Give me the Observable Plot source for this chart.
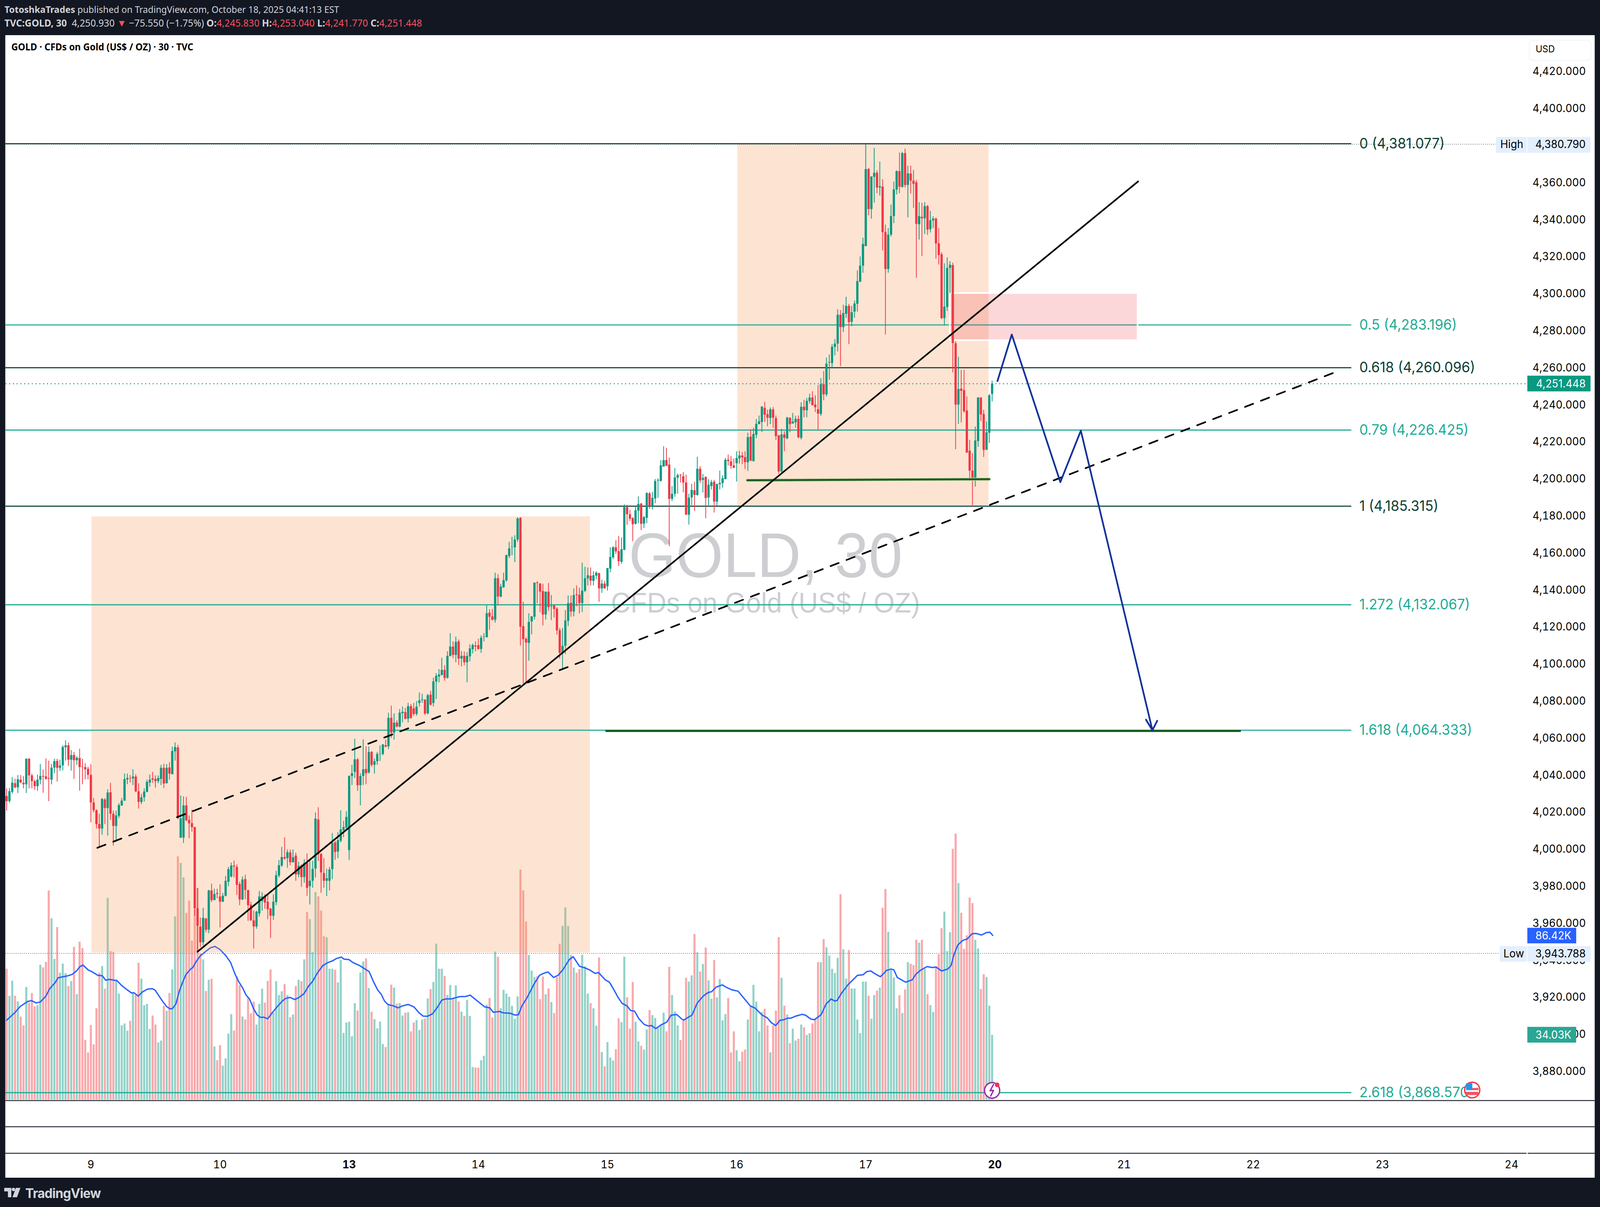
<!DOCTYPE html>
<html><head><meta charset="utf-8">
<script src="https://cdn.jsdelivr.net/npm/d3@7"></script>
<script src="https://cdn.jsdelivr.net/npm/@observablehq/plot@0.6"></script>
<style>
html,body{margin:0;padding:0;background:#131722;overflow:hidden;}
#wrap{position:relative;width:4234px;height:3090px;overflow:hidden;background:#131722;font-family:Inter,sans-serif;transform-origin:0 0;}
#pane{position:absolute;left:14px;top:90px;width:4206px;height:2925px;background:#fff;}
#wrap svg.plot{position:absolute;left:0;top:0;}
.hd{position:absolute;white-space:nowrap;font-family:"Noto Sans",sans-serif;font-size:25px;color:#d1d4dc;line-height:30px;}
.hd b{font-weight:700}.hd i{font-style:normal;color:#f7525f}
#tv{position:absolute;left:67px;top:3034px;font:700 34px Inter,sans-serif;color:#d1d4dc;letter-spacing:-1px;}
</style></head><body>
<div id="wrap">
<div id="pane"></div>
<div class="hd" style="left:12px;top:9px;font-size:23.8px"><b>TotoshkaTrades</b> published on TradingView.com, October 18, 2025 04:41:13 EST</div>
<div class="hd" style="left:12px;top:43px"><b>TVC:GOLD, 30</b>&nbsp; 4,250.930 <i>▼</i> −75.550 (−1.75%) <b>O:</b><i>4,245.830</i> <b>H:</b><i>4,253.040</i> <b>L:</b><i>4,241.770</i> <b>C:</b><i>4,251.448</i></div>
<div class="hd" style="left:30px;top:105px;color:#000;font-weight:700;font-size:24.3px">GOLD · CFDs on Gold (US$ / OZ) · 30 · TVC</div>
<svg style="position:absolute;left:11px;top:3041px" width="46" height="25" viewBox="0 0 46 25"><path fill="#d1d4dc" d="M0 0h19v24h-9V9H0zM31 0h12l-9 24H22zM20 4a4.500 4.500 0 1 0 9 0a4.500 4.500 0 1 0-9 0z"/></svg>
<div id="tv">TradingView</div>
</div>
<script>
// Each row: [open, high, low, close]
const oct08 = [[4028.7,4032.8,4020.8,4025.9],[4025.9,4033,4025,4031.3],[4030.9,4038.9,4030,4035.9],[4035.6,4038,4032.8,4033.4],[4033.4,4040,4030.3,4037.7],[4037.5,4040,4035.6,4036],[4035.8,4039.5,4032.8,4035],[4035,4049,4030.3,4048.8],[4048.8,4049.1,4032.8,4039.8],[4039.8,4040.8,4032.8,4036.7],[4036.7,4037.5,4032,4034],[4034,4040.3,4031.5,4037.5],[4037.5,4046,4035,4039.5],[4039.5,4043,4030.4,4039.1],[4039.3,4049,4037.5,4038],[4038.4,4047.8,4025.9,4038],[4037.5,4046,4035,4044],[4044,4048.8,4041,4047.5],[4047.6,4048.8,4036.5,4043.9],[4043.9,4048.3,4042.2,4045.2],[4045.2,4056.1,4042.6,4055.2],[4055,4058.8,4047.8,4056.1],[4056.1,4057.6,4045,4048.3],[4048.3,4053.5,4042.4,4050.8],[4050.8,4052.5,4037.9,4048],[4048,4050.2,4045.5,4049.3],[4049.3,4054.2,4031.5,4044.3],[4044.5,4048.8,4035,4044.3],[4044.3,4046.4,4037.7,4043.1],[4043.4,4044.5,4037.7,4040.1]];
const oct09 = [[4040.1,4045.9,4014.4,4025.2],[4025.2,4027.6,4019.8,4021],[4021,4021.5,4011.1,4013.5],[4013.5,4019.1,4000.7,4011.1],[4011.1,4027.6,4007.8,4027.1],[4026.8,4027.6,4013.5,4022.2],[4022.2,4032.3,4007.3,4030.6],[4030.7,4035.8,4015.8,4019.1],[4019.1,4020.8,4001.9,4012.5],[4012.5,4020.8,4004,4018.2],[4018,4024.8,4016.8,4023.8],[4023.6,4027.6,4023.3,4026.2],[4026.2,4040.8,4026,4037.8],[4037.6,4040.8,4035.1,4038.4],[4038.4,4040,4036,4038.2],[4038.2,4043.1,4034.6,4039.2],[4039.2,4040.5,4030.9,4031.1],[4031.2,4035.6,4021.9,4025.5],[4025.4,4029.9,4024.3,4028],[4028,4032.8,4025.7,4031.1],[4030.9,4037.5,4030.7,4036.3],[4035.9,4040.3,4033.7,4037.5],[4038.2,4041.7,4035.8,4037.5],[4037.9,4039.8,4033.2,4036.7],[4036.8,4039.8,4035.6,4038.4],[4037.9,4045.5,4034.6,4043.9],[4043.9,4046.1,4033,4035.4],[4035.6,4045.9,4035.4,4043.9],[4044.1,4046.9,4037.5,4040.8],[4040.5,4055.4,4040.3,4053],[4052.8,4057.6,4047.8,4055.1],[4054.9,4056.3,4016.3,4016.6],[4006.2,4029,4006,4016.6],[4006.2,4028.5,4003.3,4023.6],[4023.6,4028.2,4015,4015.6],[4015.8,4018.2,4005.9,4013.9],[4014,4021.3,4009.4,4011.8],[4011.9,4012,3964,3968],[3968,3979,3944,3958.6],[3958.1,3963,3947.1,3949.7],[3949.7,3968.3,3948,3962.9],[3962.4,3963,3955.1,3956.5],[3956.5,3978,3954.6,3977.7],[3977.7,3981.4,3971.4,3972.5],[3972.5,3978.6,3972.4,3975.8],[3976.3,3978.6,3973.4,3975.8]];
const oct10 = [[3974.4,3981,3957.7,3971.6],[3971.6,3976.3,3971.4,3974.8],[3974.8,3985.5,3974.4,3982.9],[3982.4,3990.4,3980,3989.2],[3985.2,3992.7,3984.7,3991.1],[3991.1,3993.9,3984.7,3990.6],[3990.4,3991.8,3975.3,3980.7],[3981.2,3982.4,3969.7,3972.8],[3972.8,3985.2,3972.5,3983.6],[3983.8,3986.2,3973,3977.9],[3977.9,3978,3961.2,3969.7],[3970,3971.6,3961.2,3961.5],[3961.5,3966.8,3946.3,3958.2],[3958.2,3966.8,3957,3966.2],[3965.2,3977.4,3963.6,3974.4],[3972,3976.7,3966.8,3974.4],[3974.6,3975.6,3967.8,3971.1],[3971.6,3975.8,3962.1,3967.5],[3967.8,3968.3,3952,3964],[3964,3975.6,3961.7,3971.6],[3971.4,3988.3,3969.7,3985.9],[3985.7,3994.2,3984.7,3991.3],[3991.1,4001.2,3990.4,3995.7],[3995.7,4006.4,3994.2,3994.9],[3995.1,3999.8,3989.9,3998.4],[3998.2,3999.8,3991.3,3992.9],[3992.9,3999.8,3992.7,3995.6],[3996.5,3998.1,3982.9,3986.3],[3986.3,3993.2,3984.7,3991],[3991.1,3991.8,3979.6,3984.9],[3984.9,3994.6,3981.9,3992.5],[3992.6,3997.7,3974.8,3979.1],[3980,3993.7,3970.1,3982.9],[3982.9,3993.7,3979.1,3989.3],[3989.5,4019.8,3984.7,4016.5],[4016,4022.6,3993.7,3997.2],[3997.4,3997.9,3976.4,3987.4],[3987.1,3995.1,3979.1,3982.9],[3982.9,3989.4,3974.6,3984.3],[3982.9,3990.4,3977.7,3989],[3989.2,4008.7,3983.8,4003.4],[4003.6,4004.5,3994.2,3998.4],[3998.7,4009.2,3995.1,4004.8],[4004.5,4021,4003.6,4010.6],[4010.2,4015.3,4006.4,4011.9],[4011.6,4020.5,4010.2,4017.4]];
const oct13 = [[3999.5,4039.8,3994.2,4039.5],[4039.5,4045.5,4034.6,4041],[4041.7,4059.6,4038.4,4048.5],[4048.5,4049.2,4031.5,4034.5],[4034.5,4041,4023.6,4039.5],[4039.5,4059.3,4034.6,4043.1],[4043.3,4055.5,4035.1,4041],[4041.4,4055.4,4040.8,4052.5],[4052.5,4053,4044.5,4045.5],[4045.5,4049,4040.8,4047.5],[4047.5,4052.5,4045.5,4051.4],[4051.4,4056,4047.6,4051.6],[4051.4,4056.8,4050.7,4056.5],[4056.1,4059.1,4054.9,4055.4],[4055.5,4073.7,4054,4070.9],[4070.9,4077.5,4060.1,4062.9],[4062.9,4073.3,4059.1,4068.3],[4068.3,4069.5,4065.7,4066.2],[4066.2,4075.6,4065.7,4073.7],[4073.4,4077,4068.5,4074.2],[4074,4076.3,4070,4070.4],[4070.4,4079,4068.4,4077.2],[4077.2,4078.4,4070.4,4070.9],[4076,4079,4072,4073],[4073,4080,4072,4077],[4078.9,4084.6,4077,4080.3],[4080.5,4083.9,4079,4080.9],[4080.7,4081,4072.5,4073.2],[4073.3,4083.9,4072.8,4083.1],[4083.4,4085.5,4077.5,4078],[4078.9,4092.6,4077,4090.6],[4090.5,4095.1,4081.1,4093.6],[4093.2,4097.2,4090.1,4094.3],[4094,4103.3,4094,4096.8],[4096.8,4099.3,4091,4092.4],[4092.6,4106.9,4092,4104.4],[4104.3,4116.6,4104.1,4109.4],[4109.4,4112.2,4103.1,4104.9],[4104.9,4114.8,4100.9,4111.9],[4112.2,4113.2,4099.5,4102.9],[4102.9,4106.9,4098.7,4104.4],[4104.4,4106.8,4099.3,4100.9],[4100.9,4106.3,4090.1,4104.3],[4104.1,4110.6,4101.4,4108.4],[4108,4111,4105.7,4110.2],[4110,4112.2,4106.8,4109.4]];
const oct14 = [[4110.2,4113.6,4107.7,4108.1],[4108.1,4115.4,4106,4114.2],[4114.6,4116.6,4112.2,4114.8],[4114.4,4131.6,4114.4,4127.4],[4127.7,4129.5,4118.4,4125.5],[4125.7,4129.7,4123.5,4123.9],[4123.9,4149.3,4122.3,4146.3],[4146.3,4148.5,4131.6,4136.4],[4136.4,4143.3,4136,4141.8],[4141.4,4149.3,4141.1,4145.3],[4145.1,4159,4144.5,4158.8],[4158.3,4165.9,4157.2,4162.4],[4163.2,4168.7,4158.7,4163.4],[4163,4169.5,4155,4167.2],[4167.2,4179.2,4165.9,4178.6],[4178.9,4179.3,4109.9,4120.1],[4120.4,4133.6,4089.4,4113.4],[4113.6,4114.4,4089.4,4111.6],[4111.4,4127.4,4101.7,4122.7],[4122.9,4125.9,4116,4125.7],[4125.5,4144.1,4124,4143.9],[4144.1,4144.6,4132.8,4143.7],[4143.4,4143.7,4127.9,4139.1],[4139.4,4143.3,4120.8,4126.7],[4126.7,4139.2,4124,4139],[4139,4143.7,4128.7,4130.7],[4131,4137.2,4123.7,4131.3],[4131.6,4132,4125.1,4129.7],[4129.9,4130.7,4115.8,4118.1],[4118.2,4119.4,4102.9,4106],[4106,4119.4,4097.2,4109.8],[4109.8,4129.1,4105.3,4123.5],[4123.3,4137,4120.5,4132.8],[4133,4137,4125.5,4128.3],[4128.3,4140.8,4125.7,4137.2],[4137.6,4142.4,4131.1,4137.2],[4137.4,4141.2,4127.3,4132.9],[4132.9,4154.7,4128.1,4139.6],[4139.5,4152.5,4138.8,4146.3],[4146.2,4152.1,4142.4,4147.9],[4147.6,4152.1,4142.4,4145],[4144.9,4150.1,4142.4,4147.9],[4147.7,4150.1,4145.7,4149.3],[4149.1,4149.2,4133.6,4140.8],[4140.8,4145.5,4138.4,4143.4],[4143.4,4144.9,4140.7,4140.8]];
const oct15 = [[4141.9,4151.8,4139.6,4151.8],[4151.5,4163,4149.5,4157.8],[4157.6,4163.6,4156.6,4163],[4163,4166.8,4159.4,4160.8],[4160.9,4169.1,4152.9,4155.5],[4155.2,4168.3,4154.1,4162],[4161.7,4186.2,4161.4,4184.7],[4184.7,4186,4175.1,4180.9],[4180.9,4183.2,4177.2,4178.4],[4178.8,4179.2,4166.3,4175.5],[4175.7,4184.8,4175.3,4183],[4182.8,4190.5,4176,4186.4],[4186.6,4187,4172.3,4175.7],[4175.8,4180,4173.4,4179.3],[4178.9,4192.7,4176,4192.3],[4192.1,4192.9,4183.8,4185.2],[4185.2,4192.9,4183.4,4189.7],[4189.3,4199.9,4186.8,4198.8],[4199,4200.2,4189.7,4199.4],[4198.9,4210.1,4198.4,4207.3],[4206.6,4217.6,4206.5,4210.1],[4210.1,4216.7,4207,4207],[4207.7,4211.5,4163.6,4189.2],[4189.2,4196.1,4188,4191.9],[4191.9,4205.8,4190.3,4200.7],[4200.6,4202.8,4192,4202],[4202.2,4202.6,4198,4201.9],[4201.4,4203.6,4192.7,4198],[4198,4202.2,4180.6,4180.6],[4180.6,4192,4175.3,4189.9],[4189.9,4197.3,4185.7,4194],[4193.8,4198.4,4182.7,4191.3],[4191.2,4211.9,4191,4205.4],[4205.4,4206.8,4197.7,4199.1],[4199.4,4202.6,4192.6,4200.5],[4201,4201.3,4178.7,4189.6],[4189.9,4199.8,4185.7,4196.8],[4196.1,4199.4,4194.2,4198.2],[4198.4,4199.4,4181.8,4187.7],[4187.7,4197.3,4185.4,4197.2],[4197.1,4204.4,4194.2,4197.8],[4197.7,4201.9,4195.2,4200.3],[4199.8,4211.2,4199.8,4210.3],[4210.3,4213.1,4207.2,4209.6],[4209.4,4212.3,4205.4,4207],[4207.2,4210.9,4205.8,4205.9]];
const oct16 = [[4208.4,4214.9,4198.5,4211.2],[4211,4215.1,4208.2,4212.6],[4212.6,4214.5,4207.9,4211.6],[4211.7,4214.9,4205.3,4209],[4208.9,4224.9,4204.2,4222.5],[4222.8,4226.7,4209.6,4209.8],[4209.5,4227.6,4209.4,4224.2],[4223.8,4232.3,4221.9,4229.7],[4229.5,4234.2,4229.5,4231.1],[4230.7,4239.2,4225.3,4239],[4238.3,4241.6,4230.7,4234.6],[4234.9,4237.4,4228.3,4233],[4232.8,4238.5,4229.5,4237.5],[4237.5,4238.7,4227.6,4233],[4232.8,4234.2,4220.9,4223],[4223.5,4223.5,4202.7,4203.9],[4204,4227,4202.8,4224],[4224,4225.7,4214.9,4222.1],[4221.8,4233.5,4221.4,4233],[4233,4233.2,4225.2,4229.5],[4229.9,4235.6,4229.7,4230.9],[4230.5,4234.1,4227.6,4232.4],[4232.4,4234.2,4221.9,4222.4],[4222.1,4241.4,4221.2,4238.9],[4238.9,4242.7,4233.2,4237],[4237,4243.7,4233.2,4242.1],[4242,4246,4240.6,4243.9],[4243.9,4247.3,4239.5,4239.8],[4240.1,4245.1,4236,4238.6],[4237.6,4250.6,4226.7,4235.2],[4235,4254.4,4234,4251.1],[4251.1,4258.2,4242.4,4245.6],[4245.6,4265.4,4244.5,4262.2],[4262.8,4267.1,4253.5,4263.1],[4262.5,4272.8,4259.9,4271.3],[4271.2,4275.5,4266.7,4273],[4273,4291.6,4268.8,4288.6],[4288.6,4291.1,4260.8,4281.9],[4281.9,4294,4279.3,4289.5],[4289.1,4298.3,4286.8,4293.4],[4293.4,4294.5,4272.7,4284.6],[4284.8,4293.4,4282.4,4290],[4290.3,4296.3,4287,4294.7],[4294.5,4312.6,4290.3,4306.8],[4306.4,4320.1,4306.4,4315.1],[4315.1,4330.2,4311.3,4326.8]];
const oct17 = [[4325.7,4380.79,4325.6,4367.3],[4367.3,4367.9,4342.3,4345.7],[4345.7,4363.3,4340.5,4363.3],[4363.1,4378.7,4349.2,4365.3],[4365.3,4366.5,4354.2,4357.3],[4357.3,4371.3,4353,4358],[4357.8,4361.8,4323.3,4333.2],[4333.3,4337.3,4277.9,4313.3],[4313.3,4335.4,4311.3,4331.9],[4331.9,4348.1,4330.9,4341.9],[4341.9,4360.5,4338.1,4356.3],[4356.2,4366.5,4353.6,4366.2],[4366.2,4376.2,4354.2,4357.8],[4357.5,4376.6,4357.4,4375.9],[4375.9,4378.3,4357.4,4358.7],[4358.7,4369.1,4341.2,4364.9],[4364.9,4369.1,4354,4361],[4361,4366.9,4346.3,4359.3],[4360.1,4361.4,4308.5,4337.7],[4337.5,4349.4,4329.2,4341.9],[4341.5,4349.1,4320.3,4340.7],[4340.7,4349.4,4332.2,4347.3],[4347.3,4347.9,4331.7,4334.6],[4334.8,4344.7,4333,4339.7],[4339.5,4341.7,4335.5,4340.5],[4340.5,4341.1,4318.9,4327.1],[4327.2,4335.4,4315.7,4320.9],[4321.3,4322.3,4286.2,4286.8],[4286.8,4316.4,4282.8,4293],[4292.8,4319.6,4290.6,4313.9],[4313.9,4317.5,4300.3,4315.6],[4315.4,4316.7,4257.5,4273.3],[4273.2,4274.2,4216,4240.1],[4240.1,4265.9,4229.7,4248.5],[4248.7,4258.8,4230.4,4247.5],[4247.9,4258.8,4235.7,4236.5],[4236.9,4244.5,4214.1,4214.1],[4215.2,4221.1,4199.5,4204.4],[4204.4,4213.9,4185.1,4200.2],[4200,4228.2,4195.8,4220.7],[4220.4,4244.1,4217.3,4243.9],[4243.9,4244.1,4231.2,4234.8],[4235,4237.3,4211.8,4215.6],[4215.7,4231,4215.6,4225.1],[4224.9,4245.8,4219.4,4245.1],[4245.83,4253.04,4241.77,4251.448]];

// Volume in thousands
const vol08 = [68.8,54.5,62.5,54.6,51.7,43.6,39,59.2,50.9,56,49,49.6,70.9,69.5,72.4,109.9,95.3,73.9,90.7,66.7,71.5,66.4,59.7,62.3,80.3,55.4,83,79.7,31.4,24.8];
const vol09 = [39.2,29,48,66.7,70.2,58.3,106,78,77.6,63.3,55.7,39,40,36.2,41.4,55.7,55,71.9,63.6,49.6,50.3,37.1,44.2,39.4,30,31,49.3,46.6,56,68.4,96.3,127.9,124.4,116.8,98.1,104.6,83.6,100,111.3,76.8,73.7,57.1,63,63.5,27.9,20.7];
const vol10 = [28.6,17.8,21.7,34.7,44.9,36.3,64.7,60.2,43.7,42.1,53.5,45.3,51.5,39.4,50.3,58.3,50.9,62.4,68.4,45.7,62.2,55,56.9,60.7,55,43.3,44.7,59.7,63,62.2,73.7,98.6,94.9,77.5,109,106.8,99.4,85.8,85.3,68.8,68.8,68.2,61.6,73.4,35,40.5];
const vol13 = [40.9,33.3,50.7,46.8,66.8,72.6,74.2,58.7,46.2,42.3,37.4,41,29.2,27.6,49.9,60.4,58.9,50.4,50.7,44.2,45.7,45.9,35.9,40.5,41.8,36.6,42.1,42.6,53.2,58.1,61.8,81.9,68.8,68.8,65,55,60.2,53,60,51.6,46.2,44,52.3,44,17.1,16.8];
const vol14 = [16.8,20.7,23,49.9,53.4,43.1,77.8,75.1,48,57.7,55.7,54,49.3,42.5,54.2,120.9,110,93.6,76,67.8,64.4,64.9,52.8,64.7,55.4,58.4,51.3,45.5,64.3,81.9,91.3,101,91.3,76,69.4,66.7,68.6,76.1,70,55.7,50.7,48,38.8,74.7,25,17.5];
const vol15 = [30.2,22.1,20.5,26.5,42.7,40.7,75.1,53.8,37.3,61.8,40.9,30.6,28.3,26.3,36.9,47,44.4,42.9,38,39,45.7,35.9,69.8,55,46.3,39,31.3,41.6,64,62,65.3,87,77.4,67.3,71.3,79.9,62.6,53,73.4,53.7,63.4,41.7,44.9,53.4,24.8,35.9];
const vol16 = [25.9,20.1,25.2,26.3,42.1,49.3,60.3,51.5,35.9,46,47.8,39,24.8,39,46.8,85.4,64,49.4,44.7,29.6,37.3,31,32,39.4,38,34,34.9,40,42.6,72.2,72.2,84.4,80,75.7,68.8,66.5,74.5,108,79,63.6,78.6,58.4,58.4,42.1,34.9,62];
const vol17 = [62,54.6,42.5,55,57.3,58.9,100.8,110.7,88.2,68,64.2,48,54.8,45.5,57.9,72.2,71.4,70.7,84,82.5,84,68.7,55.4,49.7,46.1,70,76.4,90.1,98.8,78,88,131.8,139.8,113.8,98.2,79.2,86.4,106.2,103.3,84,79.4,58.1,65.9,64.4,49.4,34.03];

// Volume moving average, read as [bar, thousands]
const volumeAverage = [[0,41.8],[3,45.9],[4.8,49],[7.5,51.7],[8.9,52.1],[10.5,50.9],[12,51.4],[14,54.5],[15.3,58.3],[17.4,61.8],[18.3,64.1],[21.9,65.2],[23.3,65.9],[24.9,67.7],[26.1,70],[27.2,70.8],[29.1,68.2],[30.3,67.4],[32.5,65.4],[34.1,65.2],[35.3,62.8],[36.5,63.3],[39.3,62.6],[40.9,60.2],[42.5,58.3],[44.5,56.1],[45.3,56.3],[46.9,54.5],[48.3,56.6],[50.1,58.1],[51.9,58.4],[52.9,57.6],[54.3,54.5],[55.5,51.9],[57,49],[58.2,47.8],[59.1,48],[60.3,50.4],[61.5,57.1],[62.7,61.8],[63.9,65.9],[65.4,68.5],[66.3,69.5],[67.5,72.6],[69,75.7],[71.2,78.3],[72.6,79.9],[74.2,80.6],[76,79],[78.1,75.7],[79.8,72.1],[81.4,65.9],[82.6,62.3],[84.1,58.7],[85.3,55],[86.5,53],[88,47.8],[89.2,44.7],[90.4,43.3],[91.6,43.4],[93,42.6],[94.6,45.7],[96.4,49],[98.2,51.9],[99.4,53.3],[101,53.8],[102.6,52.7],[104.2,53.8],[106,55.9],[107.5,59.7],[109,62.3],[110.8,66.9],[112.6,70.5],[114.4,72.1],[116.2,73.1],[117.4,74.2],[119.2,75],[120.2,73.9],[121.9,73.7],[123.4,72.1],[125.8,70.5],[127.4,69],[129.1,67.4],[130.6,62.3],[132.2,57.6],[133.4,55.5],[134.6,51.9],[135.8,50.1],[137.9,49.3],[139.4,48.3],[140.9,49.3],[143,50.1],[145.1,48.8],[146.9,45.7],[148.3,44],[149.9,43.9],[151.7,45.2],[153.5,48.8],[155,52.4],[156.5,53],[158.3,53],[161.3,54.2],[163.5,54.3],[165.1,55],[167.3,52.4],[170.3,48.8],[172.1,48.3],[173.3,46],[175.5,46.4],[176.9,45.7],[179.3,45.5],[181.1,44.5],[182.3,44.7],[183.5,49.3],[185.3,53.5],[188,61.2],[189.8,65.4],[191,66.3],[192.8,67.2],[194.8,64.3],[196.4,65.4],[198.2,68.5],[200.4,73.7],[201.8,75.2],[204,70.2],[206,69.3],[207.6,68.3],[209.6,66.4],[210.8,66.9],[213.2,63.1],[214.7,61.8],[216.2,58.1],[217.7,54],[219.2,50.7],[221,49.3],[222.2,47],[223.7,46.5],[225.2,42.6],[227,39.7],[228.5,38.8],[229.7,39],[231.2,37.4],[233,39.3],[235.1,40.8],[236.7,44.5],[238.7,44.8],[240.5,42.4],[241.2,41.9],[242.7,43.3],[244.1,44.5],[246,50.9],[248.1,54.5],[249.9,56.4],[251.1,56.8],[252.7,59.2],[254.9,60.4],[256.5,59],[258.3,57.8],[260.5,57.1],[262.1,54.3],[264.9,49.3],[266.5,48.3],[269.1,44.5],[270.9,43.1],[272.3,40.6],[273.9,39],[275.5,41.8],[276.9,42.1],[278.1,42.9],[279.3,42.9],[281.1,44],[283.3,44.9],[284.5,44.5],[286.5,42.4],[287.7,42.1],[290.1,44.7],[291.9,50.4],[293.7,53],[294.9,51.9],[295.8,52.2],[297.4,56.1],[299.8,60.7],[301.6,63.3],[303,65.4],[305,65.7],[306.4,67.4],[307.8,67.7],[309.4,66.1],[311.2,64.7],[312.4,66.4],[313.4,68],[315,68.7],[316,68.3],[317.2,64.3],[318.4,63.3],[320.2,61.8],[322.6,63.1],[323.8,65.9],[325.4,68],[327.8,70],[329.8,69.5],[331,69.8],[333,67.7],[335.2,68.7],[336.4,70.6],[337.4,76.2],[338.8,81.4],[340.6,83.8],[342.1,84.5],[343.9,87.3],[345.4,87.4],[347.2,86.6],[349,87.9],[350.2,88.1],[351.2,86.42]];

const fibLevels = [0,0.5,0.618,0.79,1,1.272,1.618,2.618];
const fibPrices = [4381.077,4283.196,4260.096,4226.425,4185.315,4132.067,4064.333,3868.57];
const fibLabels = ["0 (4,381.077)","0.5 (4,283.196)","0.618 (4,260.096)","0.79 (4,226.425)","1 (4,185.315)","1.272 (4,132.067)","1.618 (4,064.333)","2.618 (3,868.570)"];
const fibDark = [0,0.618,1];
const priceTicks = [4420,4400,4380,4360,4340,4320,4300,4280,4260,4240,4220,4200,4180,4160,4140,4120,4100,4080,4060,4040,4020,4000,3980,3960,3940,3920,3900,3880];
const dayBars = [30,76,122,168,214,260,306,352,398,444,490,536];
const dayLabels = ["9","10","13","14","15","16","17","20","21","22","23","24"];
const boldDays = [122,352];

const solidTrend = [[68,3944.7],[403,4360.7]];
const dashedTrend = [[32.3,4000.8],[473.8,4258]];
const forecastPath = [[352.9,4252.9],[358,4278],[375.3,4198.3],[382.6,4226.1],[408.1,4064.3]];
const forecastHead = [[405.8,4070],[408.1,4064.3],[409.8,4069.4]];
const supportA = [[263.8,4199.3],[350,4199.9]];
const supportB = [[213.6,4063.9],[439.3,4063.9]];
const boltShape = [[351.5,3873.0],[350.3,3869.6],[351.5,3869.8],[350.5,3866.8]];

const rows = [...oct08,...oct09,...oct10,...oct13,...oct14,...oct15,...oct16,...oct17];
const volumes = [...vol08,...vol09,...vol10,...vol13,...vol14,...vol15,...vol16,...vol17];
const candles = rows.map(([open,high,low,close],bar)=>({bar,open,high,low,close,volume:volumes[bar],up:close>=open}));
const GREEN="#089981", RED="#f23645", TEAL="#22ab94", DARK="#0a3f35", NAVY="#12329a", FOREST="#1b5e20";
const fibs = fibLevels.map((level,i)=>({level,price:fibPrices[i],label:fibLabels[i],color:fibDark.includes(level)?DARK:TEAL}));
const xDomain=[-0.404,541.6];
const base={width:4234,height:3090,marginLeft:14,marginRight:193,marginTop:90,
  style:{background:"transparent",fontFamily:"Inter, sans-serif",overflow:"visible"}};

// Volume pane
const volPlot = Plot.plot({...base,marginBottom:275,
  x:{domain:xDomain,axis:null},
  y:{domain:[0,559.5],axis:null},
  marks:[
    Plot.ruleX(candles,{x:"bar",y1:0,y2:"volume",stroke:d=>d.up?"#93d2c9":"#f9a9ac",strokeWidth:5.5}),
    Plot.line(volumeAverage,{x:d=>d[0],y:d=>d[1],stroke:"#2962ff",strokeWidth:3.5,curve:"linear"})
  ]});

// Price pane
const BLUEPALE="#e3effd";
const tagText=(label,x,y,o={})=>Plot.text([label],{x:[x],y:[y],fontFamily:"Inter, sans-serif",fontSize:27.8,fill:"#000",...o});
const pricePlot = Plot.plot({...base,marginBottom:273,
  x:{domain:xDomain,axis:null},
  y:{domain:[3864.3,4439.6],axis:null},
  marks:[
    Plot.text(["GOLD, 30"],{x:[270.3],y:[4158],fontFamily:"Liberation Sans",fontSize:161,fill:"#cdced1"}),
    Plot.text(["CFDs on Gold (US$ / OZ)"],{x:[270.3],y:[4132.7],fontFamily:"Liberation Sans",fontSize:71.5,fill:"#cdced1"}),
    Plot.rect([0],{x1:[30.3],x2:[207.8],y1:[3944.2],y2:[4179.7],fill:"#f7934b",fillOpacity:.25}),
    Plot.rect([0],{x1:[260.3],x2:[349.8],y1:[4185.6],y2:[4381],fill:"#f7934b",fillOpacity:.25}),
    Plot.axisY({anchor:"right",ticks:priceTicks,tickSize:0,tickPadding:155,textAnchor:"end",tickFormat:d3.format(",.3f"),fontSize:27.8,fill:"#000",label:null}),
    Plot.axisX({anchor:"bottom",ticks:dayBars.filter(d=>!boldDays.includes(d)),tickSize:0,tickPadding:154,tickFormat:d=>dayLabels[dayBars.indexOf(d)],fontSize:27.8,fill:"#000",label:null}),
    Plot.axisX({anchor:"bottom",ticks:boldDays,tickSize:0,tickPadding:154,tickFormat:d=>dayLabels[dayBars.indexOf(d)],fontSize:27.8,fontWeight:700,fill:"#000",label:null}),
    Plot.ruleY([3864.3],{x1:xDomain[0],x2:565.7,stroke:"#2a2e39",strokeWidth:2.5}),
    Plot.ruleY([3864.3],{x1:xDomain[0],x2:565.7,stroke:"#2a2e39",strokeWidth:2.5,dy:67}),
    Plot.ruleY([3864.3],{x1:xDomain[0],x2:541.4,stroke:"#2a2e39",strokeWidth:2.5,dy:135}),
    Plot.ruleY([3864.3],{x1:541.8,x2:565.7,stroke:"#2a2e39",strokeWidth:2.5,dy:135}),
    Plot.ruleY([4380.79],{x1:xDomain[0],x2:530.5,stroke:"#787b86",strokeWidth:2,strokeDasharray:"2,3.5"}),
    Plot.ruleY([3943.788],{x1:xDomain[0],x2:531.9,stroke:"#787b86",strokeWidth:2,strokeDasharray:"2,3.5"}),
    Plot.ruleY(fibs,{y:"price",x1:xDomain[0],x2:479,stroke:"color",strokeWidth:2.8}),
    Plot.ruleY([4251.448],{x1:xDomain[0],x2:xDomain[1],stroke:GREEN,strokeWidth:2.2,strokeDasharray:"3,7"}),
    Plot.rect([0],{x1:[336.3],x2:[402.6],y1:[4275.3],y2:[4299.9],stroke:"#fff",strokeWidth:4,inset:-2}),
    Plot.rect([0],{x1:[336.3],x2:[402.6],y1:[4275.3],y2:[4299.9],fill:RED,fillOpacity:.2}),
    Plot.ruleX(candles,{x:"bar",y1:"low",y2:"high",stroke:d=>d.up?GREEN:RED,strokeWidth:2}),
    Plot.ruleX(candles,{x:"bar",y1:"open",y2:"close",stroke:d=>d.up?GREEN:RED,strokeWidth:6}),
    Plot.line(supportA,{x:d=>d[0],y:d=>d[1],stroke:"#c9d3a8",strokeWidth:8,strokeLinecap:"round"}),
    Plot.line(supportA,{x:d=>d[0],y:d=>d[1],stroke:FOREST,strokeWidth:5,strokeLinecap:"round"}),
    Plot.line(supportB,{x:d=>d[0],y:d=>d[1],stroke:FOREST,strokeWidth:5.5}),
    Plot.line(solidTrend,{x:d=>d[0],y:d=>d[1],stroke:"#000",strokeWidth:4.2}),
    Plot.line(dashedTrend,{x:d=>d[0],y:d=>d[1],stroke:"#000",strokeWidth:4.2,strokeDasharray:"23,22"}),
    Plot.line(forecastPath,{x:d=>d[0],y:d=>d[1],stroke:NAVY,strokeWidth:4.5,strokeLinecap:"round",strokeLinejoin:"round"}),
    Plot.line(forecastHead,{x:d=>d[0],y:d=>d[1],stroke:NAVY,strokeWidth:4.5,strokeLinecap:"round",strokeLinejoin:"round"}),
    Plot.text(fibs,{x:481.8,y:"price",text:"label",fill:"color",textAnchor:"start",fontFamily:"Inter, sans-serif",fontSize:36.5}),
    // axis tags
    Plot.rect([0],{x1:[530.5],x2:[541.5],y1:[4376.1],y2:[4384.6],fill:BLUEPALE}),
    Plot.rect([0],{x1:[541.7],x2:[564.2],y1:[4376.1],y2:[4384.6],fill:BLUEPALE}),
    tagText("High",536.1,4380.7),tagText("4,380.790",562.4,4380.7,{textAnchor:"end"}),
    Plot.rect([0],{x1:[531.9],x2:[541.5],y1:[3939.2],y2:[3947.6],fill:BLUEPALE}),
    Plot.rect([0],{x1:[541.7],x2:[564.2],y1:[3939.2],y2:[3947.6],fill:BLUEPALE}),
    tagText("Low",536.8,3943.4),tagText("3,943.788",562.4,3943.6,{textAnchor:"end"}),
    Plot.rect([0],{x1:[541.7],x2:[559.1],y1:[3949.1],y2:[3957.5],fill:"#2962ff"}),
    tagText("86.42K",557.3,3953.3,{textAnchor:"end",fill:"#fff"}),
    Plot.rect([0],{x1:[541.7],x2:[559.1],y1:[3895.5],y2:[3904],fill:"#2aa694"}),
    tagText("34.03K",557.3,3899.7,{textAnchor:"end",fill:"#fff"}),
    Plot.rect([0],{x1:[541.7],x2:[564.2],y1:[4247.2],y2:[4255.7],fill:GREEN}),
    tagText("4,251.448",562.4,4251.4,{textAnchor:"end",fill:"#fff"}),
    Plot.rect([0],{x1:[542.4],x2:[564.4],y1:[4425.9],y2:[4436.9],stroke:"#f0f3fa",strokeWidth:2,rx:10}),
    tagText("USD",544.6,4432,{textAnchor:"start",fontSize:24}),
    // event icons
    Plot.dot([0],{x:[351],y:[3869.8],r:20,fill:"#fff",stroke:"#9c27b0",strokeWidth:3.5}),
    Plot.line(boltShape,{x:d=>d[0],y:d=>d[1],stroke:"#9c27b0",strokeWidth:3.5}),
    Plot.dot([0],{x:[352.8],y:[3872.8],r:6,fill:RED}),
    Plot.dot([0],{x:[522],y:[3870],r:20,fill:"#fff",stroke:RED,strokeWidth:3.5}),
    Plot.rect([0],{x1:[519.9],x2:[522.1],y1:[3869.8],y2:[3873.6],fill:"#2196f3"}),
    Plot.rect([0],{x1:[522.1],x2:[524.3],y1:[3869.8],y2:[3871],fill:"#f7525f"}),
    Plot.rect([0],{x1:[519.7],x2:[524.2],y1:[3867.2],y2:[3868.9],fill:"#f7525f"})
  ]});

const wrap=document.getElementById("wrap");
[volPlot,pricePlot].forEach(p=>{p.classList.add("plot");wrap.appendChild(p);});
// The window may be narrower than the reference: fit the full width to it.
wrap.style.transform="scaleX("+Math.min(1,window.innerWidth/4234)+")";
</script>
</body></html>
